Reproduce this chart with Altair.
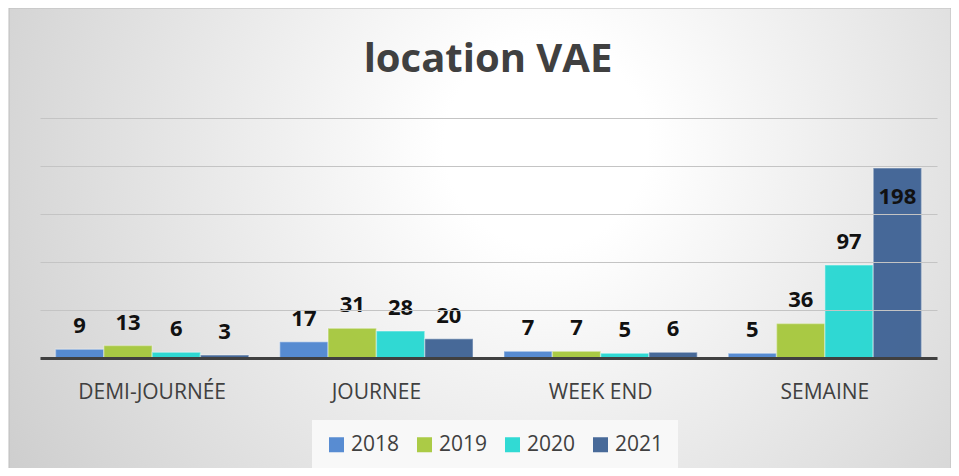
import altair as alt
import pandas as pd

categories = ["DEMI-JOURNÉE", "JOURNEE", "WEEK END", "SEMAINE"]
years = ["2018", "2019", "2020", "2021"]
v2018 = [9, 17, 7, 5]
v2019 = [13, 31, 7, 36]
v2020 = [6, 28, 5, 97]
v2021 = [3, 20, 6, 198]
colors = ["#4f86d0", "#a6c83c", "#26d8d2", "#3e6294"]
title_text = "location VAE"

series = {"2018": v2018, "2019": v2019, "2020": v2020, "2021": v2021}
rows = []
for y in years:
    for c, v in zip(categories, series[y]):
        rows.append({"cat": c, "year": y, "value": v})
df = pd.DataFrame(rows)

W, H = 897, 240
FONT = "Open Sans"

bg = alt.Chart(alt.Data(values=[{}])).mark_rect(
    fill=alt.RadialGradient(
        gradient="radial",
        stops=[alt.GradientStop(color="#ffffff", offset=0),
               alt.GradientStop(color="#ffffff", offset=0.15),
               alt.GradientStop(color="#c9c9c9", offset=1)],
        x1=0.57, y1=0.4, r1=0, x2=0.57, y2=0.4, r2=0.72),
    stroke="#bdbdbd", strokeWidth=1,
).encode(x=alt.value(-31), x2=alt.value(911), y=alt.value(-110), y2=alt.value(352))

title = alt.Chart(alt.Data(values=[{}])).mark_text(
    font=FONT, fontSize=40, fontWeight="bold", color="#404040",
    align="center", baseline="alphabetic",
).encode(x=alt.value(448), y=alt.value(-46), text=alt.value(title_text))

xenc = alt.X("cat:N", sort=categories, title=None,
             scale=alt.Scale(paddingInner=0, paddingOuter=0),
             axis=alt.Axis(labelAngle=0, labelFont=FONT, labelFontSize=21,
                           labelColor="#404040", ticks=False, labelPadding=23,
                           domainColor="#404040", domainWidth=3, grid=False,
                           zindex=2))
xoff = alt.XOffset("year:N", sort=years,
                   scale=alt.Scale(paddingInner=0, paddingOuter=0.32))
yenc = alt.Y("value:Q", title=None,
             scale=alt.Scale(domain=[0, 250], nice=False),
             axis=alt.Axis(values=[0, 50, 100, 150, 200, 250], labels=False,
                           ticks=False, domain=False, gridColor="#c4c4c4",
                           gridWidth=1.2, zindex=1))

bars = alt.Chart(df).mark_bar(stroke="#ffffff", strokeOpacity=0.35, strokeWidth=1.5,
                              opacity=0.95).encode(
    x=xenc, xOffset=xoff, y=yenc,
    color=alt.Color("year:N", sort=years,
                    scale=alt.Scale(domain=years, range=colors),
                    legend=alt.Legend(title=None, orient="none", direction="horizontal",
                                      legendX=272, legendY=302,
                                      symbolType="square", symbolSize=225,
                                      symbolStrokeWidth=0,
                                      labelFont=FONT, labelFontSize=21,
                                      labelColor="#404040", labelOffset=4,
                                      columnPadding=14, padding=14,
                                      fillColor="#f8f8f8")),
)

lab_small = alt.Chart(df).transform_filter("datum.value < 150").mark_text(
    font=FONT, fontSize=22, fontWeight="bold", color="#111111",
    baseline="middle", dy=-23,
).encode(x=alt.X("cat:N", sort=categories), xOffset=alt.XOffset("year:N", sort=years),
         y="value:Q", text="value:Q")

lab_big = alt.Chart(df).transform_filter("datum.value >= 150").mark_text(
    font=FONT, fontSize=22, fontWeight="bold", color="#111111",
    baseline="middle", dy=29,
).encode(x=alt.X("cat:N", sort=categories), xOffset=alt.XOffset("year:N", sort=years),
         y="value:Q", text="value:Q")

chart = alt.layer(bg, title, bars, lab_small, lab_big).properties(
    width=W, height=H,
    autosize=alt.AutoSizeParams(type="none"),
    padding={"left": 32, "top": 110, "right": 14, "bottom": 110},
).configure_view(stroke=None).configure(background="#ffffff")

chart.save("out.html", embed_options={"renderer": "svg", "actions": False})
